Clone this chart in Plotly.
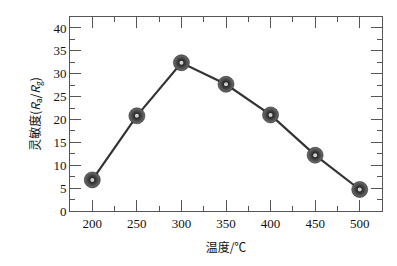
import plotly.graph_objects as go

temps = [200, 250, 300, 350, 400, 450, 500]
sens = [6.8, 20.8, 32.4, 27.7, 21.0, 12.2, 4.7]
xticks = [200, 250, 300, 350, 400, 450, 500]
yticks = [0, 5, 10, 15, 20, 25, 30, 35, 40]

fig = go.Figure()
fig.add_trace(go.Scatter(
    x=temps, y=sens, mode="lines",
    line=dict(color="#333333", width=2.2),
    hoverinfo="skip", showlegend=False))
fig.add_trace(go.Scatter(
    x=temps, y=sens, mode="markers",
    marker=dict(size=16, color="#707070", line=dict(width=0.5, color="#111111"),
                gradient=dict(type="radial", color="#0a0a0a")),
    showlegend=False))
fig.add_trace(go.Scatter(
    x=temps, y=sens, mode="markers",
    marker=dict(size=4, color="rgba(255,255,255,0.8)", line=dict(width=0)),
    showlegend=False, hoverinfo="skip"))

axis_common = dict(
    showgrid=False, zeroline=False, showline=True, linecolor="#555555",
    linewidth=1, mirror="ticks", ticks="inside", ticklen=11, tickwidth=1,
    tickcolor="#555555",
    tickfont=dict(family="Liberation Serif, Times New Roman, serif", size=13, color="#111111"),
)

fig.update_layout(
    width=397, height=266,
    margin=dict(l=70, r=15, t=17, b=55),
    paper_bgcolor="white", plot_bgcolor="white",
    xaxis=dict(range=[175, 525], tickmode="array", tickvals=xticks,
               minor=dict(ticks="inside", ticklen=5, dtick=25, tick0=175, tickcolor="#555555"),
               title=dict(text="温度/℃", standoff=14,
                          font=dict(family="Noto Sans CJK SC", size=12, color="#111111")),
               **axis_common),
    yaxis=dict(range=[0, 42.4], tickmode="array", tickvals=yticks,
               minor=dict(ticks="inside", ticklen=5, dtick=2.5, tick0=0, tickcolor="#555555"),
               title=dict(text="灵敏度(<i>R</i><sub>a</sub>/<i>R</i><sub>g</sub>)", standoff=10,
                          font=dict(family="Noto Sans CJK SC, Liberation Serif", size=12, color="#111111")),
               **axis_common),
)

fig.write_html("out.html")
